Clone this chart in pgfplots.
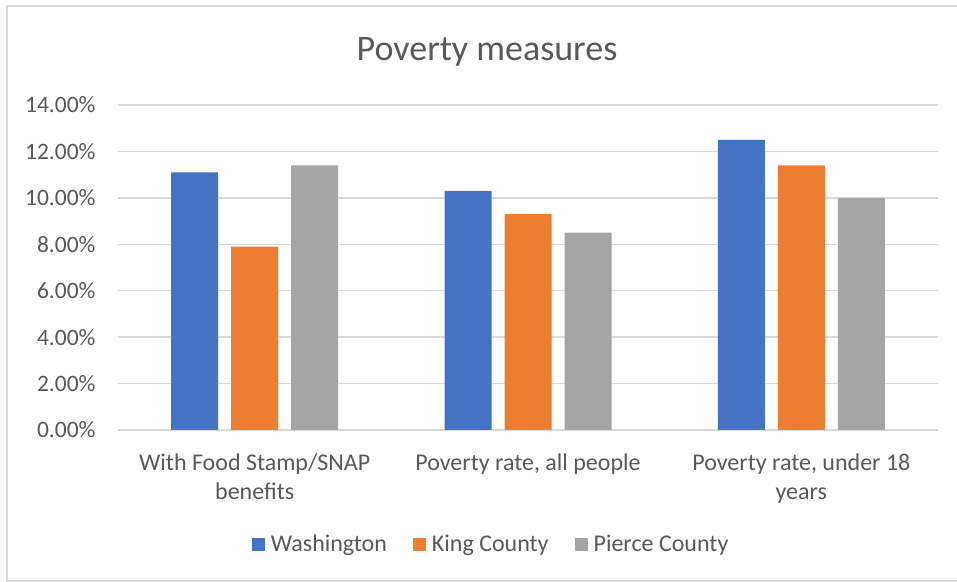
\documentclass[border=0pt]{standalone}
\usepackage{pgfplots}
\pgfplotsset{compat=1.18}
\usepackage{fontspec}
\setmainfont{Carlito}
\definecolor{cblue}{HTML}{4472C4}
\definecolor{corange}{HTML}{ED7D31}
\definecolor{cgrey}{HTML}{A5A5A5}
\definecolor{gridc}{HTML}{D9D9D9}
\definecolor{txt}{HTML}{595959}
\begin{document}
\begin{tikzpicture}
\useasboundingbox (0,0) rectangle (957bp,582bp);
\fill[white] (0,0) rectangle (957bp,582bp);
\draw[gridc, line width=1.5bp] (7bp,1bp) rectangle (962bp,576bp);
\node[txt, font=\fontsize{36bp}{40bp}\selectfont] at (487bp,530bp) {Poverty measures};
\begin{axis}[
  at={(118bp,152bp)}, anchor=south west,
  scale only axis, width=820bp, height=325bp,
  xmin=-0.5, xmax=2.5, ymin=0, ymax=14,
  ytick={0,2,...,14},
  xtick={0,1,2},
  xticklabels={{With Food Stamp/SNAP\\benefits},{Poverty rate, all people},{Poverty rate, under 18\\years}},
  xticklabel style={align=center, font=\fontsize{24bp}{29bp}\selectfont, text=txt, yshift=-20bp},
  yticklabel style={font=\fontsize{23.5bp}{27bp}\selectfont, text=txt, xshift=-19bp},
  /pgf/number format/assume math mode=true,
  yticklabel={\pgfmathprintnumber[fixed,fixed zerofill,precision=2]{\tick}\%},
  ymajorgrids, grid style={gridc, line width=1.5bp},
  axis line style={draw=none},
  major tick length=0pt,
  ybar=13bp, bar width=47bp,
  legend columns=3,
  legend style={at={(0.455,-0.351)}, anchor=center, draw=none, fill=none,
    font=\fontsize{24bp}{27bp}\selectfont, text=txt,
    /tikz/every even column/.append style={column sep=24bp}},
  legend image code/.code={\fill[#1] (0bp,-6.5bp) rectangle (13bp,6.5bp); \path (13bp,0bp) -- (17bp,0bp);},
]
\addplot[fill=cblue, draw=none] coordinates {(0,11.1) (1,10.3) (2,12.5)};
\addplot[fill=corange, draw=none] coordinates {(0,7.9) (1,9.3) (2,11.4)};
\addplot[fill=cgrey, draw=none] coordinates {(0,11.4) (1,8.5) (2,10.0)};
\legend{Washington, King County, Pierce County}
\end{axis}
\end{tikzpicture}
\end{document}
